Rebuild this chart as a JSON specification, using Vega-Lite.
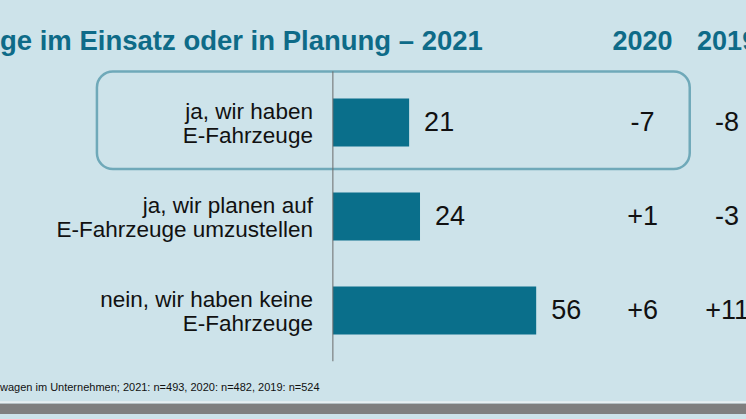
{
  "$schema": "https://vega.github.io/schema/vega-lite/v6.json",
  "width": 746,
  "height": 419,
  "autosize": {"type": "none"},
  "padding": 0,
  "background": "#cde3ea",
  "config": {"view": {"stroke": null}, "font": "Liberation Sans", "text": {"font": "Liberation Sans"}},
  "datasets": {
    "rows": [
      {"row": 1, "label": "ja, wir haben\nE-Fahrzeuge", "v2021": 21, "d2020": "-7", "d2019": "-8"},
      {"row": 2, "label": "ja, wir planen auf\nE-Fahrzeuge umzustellen", "v2021": 24, "d2020": "+1", "d2019": "-3"},
      {"row": 3, "label": "nein, wir haben keine\nE-Fahrzeuge", "v2021": 56, "d2020": "+6", "d2019": "+11"}
    ],
    "one": [{"title": "ge im Einsatz oder in Planung – 2021", "note": "wagen im Unternehmen; 2021: n=493, 2020: n=482, 2019: n=524"}]
  },
  "layer": [
    {
      "data": {"name": "one"},
      "mark": {"type": "rect", "color": "#7f7f7f"},
      "encoding": {
        "x": {"datum": -91.7, "type": "quantitative", "scale": {"domain": [-91.7, 113.8], "nice": false, "zero": false}, "axis": null},
        "x2": {"datum": 113.8},
        "y": {"datum": 3.989, "type": "quantitative", "scale": {"domain": [-0.25, 4.1], "nice": false, "zero": false, "reverse": true}, "axis": null},
        "y2": {"datum": 4.1}
      }
    },
    {
      "data": {"name": "one"},
      "mark": {"type": "rule", "color": "#e8f0f2", "strokeWidth": 2},
      "encoding": {
        "x": {"datum": -91.7, "type": "quantitative"},
        "x2": {"datum": 113.8},
        "y": {"datum": 3.975, "type": "quantitative"}
      }
    },
    {
      "data": {"name": "one"},
      "mark": {"type": "rect", "fill": null, "fillOpacity": 0, "stroke": "#6fa9b9", "strokeWidth": 2.5, "cornerRadius": 16},
      "encoding": {
        "x": {"datum": -65, "type": "quantitative"},
        "x2": {"datum": 98.3},
        "y": {"datum": 0.456, "type": "quantitative"},
        "y2": {"datum": 1.494}
      }
    },
    {
      "data": {"name": "rows"},
      "mark": {"type": "bar", "orient": "horizontal", "size": 48, "color": "#0a6f8b"},
      "encoding": {
        "x": {"field": "v2021", "type": "quantitative"},
        "y": {"field": "row", "type": "quantitative"}
      }
    },
    {
      "data": {"name": "one"},
      "mark": {"type": "rule", "color": "#6b6b6b", "strokeWidth": 1},
      "encoding": {
        "x": {"datum": 0, "type": "quantitative"},
        "y": {"datum": 0.456, "type": "quantitative"},
        "y2": {"datum": 3.539}
      }
    },
    {
      "data": {"name": "rows"},
      "mark": {"type": "text", "align": "right", "baseline": "middle", "fontSize": 22.5, "lineHeight": 24, "dy": -11, "lineBreak": "\n", "color": "#111111"},
      "encoding": {
        "x": {"datum": -5.5, "type": "quantitative"},
        "y": {"field": "row", "type": "quantitative"},
        "text": {"field": "label"}
      }
    },
    {
      "data": {"name": "rows"},
      "mark": {"type": "text", "align": "left", "baseline": "middle", "dx": 15, "fontSize": 27, "color": "#111111"},
      "encoding": {
        "x": {"field": "v2021", "type": "quantitative"},
        "y": {"field": "row", "type": "quantitative"},
        "text": {"field": "v2021"}
      }
    },
    {
      "data": {"name": "rows"},
      "mark": {"type": "text", "align": "center", "baseline": "middle", "fontSize": 27, "color": "#111111"},
      "encoding": {
        "x": {"datum": 85.3, "type": "quantitative"},
        "y": {"field": "row", "type": "quantitative"},
        "text": {"field": "d2020"}
      }
    },
    {
      "data": {"name": "rows"},
      "mark": {"type": "text", "align": "center", "baseline": "middle", "fontSize": 27, "color": "#111111"},
      "encoding": {
        "x": {"datum": 108.6, "type": "quantitative"},
        "y": {"field": "row", "type": "quantitative"},
        "text": {"field": "d2019"}
      }
    },
    {
      "data": {"name": "one"},
      "mark": {"type": "text", "align": "center", "baseline": "middle", "fontSize": 27, "fontWeight": "bold", "color": "#0e6b88", "text": "2020"},
      "encoding": {
        "x": {"datum": 85.3, "type": "quantitative"},
        "y": {"datum": 0.145, "type": "quantitative"}
      }
    },
    {
      "data": {"name": "one"},
      "mark": {"type": "text", "align": "center", "baseline": "middle", "fontSize": 27, "fontWeight": "bold", "color": "#0e6b88", "text": "2019"},
      "encoding": {
        "x": {"datum": 108.6, "type": "quantitative"},
        "y": {"datum": 0.145, "type": "quantitative"}
      }
    },
    {
      "data": {"name": "one"},
      "mark": {"type": "text", "align": "left", "baseline": "middle", "fontSize": 27.5, "fontWeight": "bold", "color": "#0e6b88"},
      "encoding": {
        "x": {"datum": -91.7, "type": "quantitative"},
        "y": {"datum": 0.145, "type": "quantitative"},
        "text": {"field": "title"}
      }
    },
    {
      "data": {"name": "one"},
      "mark": {"type": "text", "align": "left", "baseline": "middle", "fontSize": 11, "font": "Liberation Sans", "color": "#111111"},
      "encoding": {
        "x": {"datum": -91.7, "type": "quantitative"},
        "y": {"datum": 3.82, "type": "quantitative"},
        "text": {"field": "note"}
      }
    }
  ]
}
